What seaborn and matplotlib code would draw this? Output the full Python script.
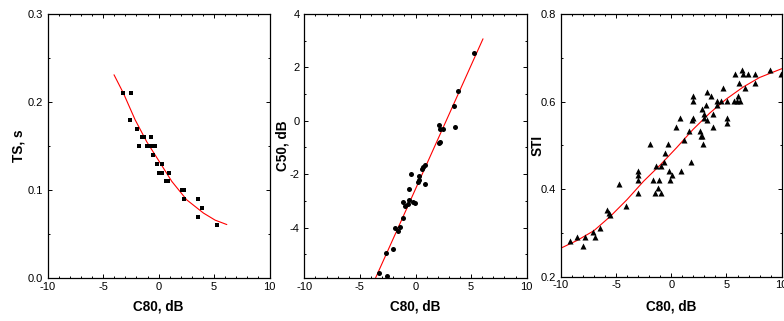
import numpy as np
import pandas as pd
import matplotlib
matplotlib.use("Agg")
import matplotlib.pyplot as plt
from matplotlib.ticker import MultipleLocator, FormatStrFormatter
import seaborn as sns

sns.set_style("ticks")
plt.rcParams['font.family'] = ['Liberation Sans', 'DejaVu Sans']
plt.rcParams['axes.unicode_minus'] = False
plt.rcParams.update({'text.color': 'black', 'axes.labelcolor': 'black',
                     'axes.edgecolor': 'black', 'xtick.color': 'black',
                     'ytick.color': 'black'})

# TS vs C80 (squares)
ts_c80 = [-3.17, -2.51, -2.6, -1.97, -1.76, -1.52, -1.28, -1.07, -0.83, -0.71, -0.53, -0.32,
          -0.53, -0.15, 0.35, 0.05, 0.35, 0.95, 0.65, 0.89, 2.09, 2.3, 2.3, 3.59, 3.89, 3.53, 5.31]
ts_val = [0.21, 0.21, 0.18, 0.17, 0.15, 0.16, 0.16, 0.15, 0.15, 0.16, 0.15, 0.15,
          0.14, 0.13, 0.13, 0.12, 0.12, 0.12, 0.11, 0.11, 0.10, 0.10, 0.09, 0.09, 0.08, 0.07, 0.06]
ts_fit_x = [-4.02, -3.17, -2.12, -1.07, 0.14, 1.19, 2.54, 4.05, 5.1, 6.15]
ts_fit_y = [0.231, 0.210, 0.180, 0.155, 0.131, 0.110, 0.089, 0.074, 0.066, 0.061]

# C50 vs C80 (circles)
c50_c80 = [5.23, 3.81, 3.48, 3.51, 2.12, 2.24, 2.5, 2.08, 2.24, 0.86, 0.67, 0.55, -0.40, 0.31,
           0.28, 0.19, 0.86, -0.62, -0.59, -0.19, -0.04, -1.09, -0.91, -0.7, -1.09, -1.4,
           -1.58, -1.85, -2.06, -2.65, -3.25, -2.59]
c50_val = [2.53, 1.10, 0.56, -0.22, -0.15, -0.30, -0.30, -0.83, -0.80, -1.66, -1.73, -1.79,
           -1.98, -2.07, -2.23, -2.28, -2.36, -2.55, -2.98, -3.03, -3.07, -3.03, -3.2, -3.13,
           -3.63, -3.96, -4.14, -4.02, -4.81, -4.96, -5.69, -5.81]
c50_fit_x = [-3.8, 6.07]
c50_fit_y = [-6.08, 3.07]

# STI vs C80 (triangles)
sti_c80 = [-9.14, -8.48, -7.94, -7.76, -7.1, -6.92, -6.4, -5.77, -5.65, -5.5, -4.72, -4.09,
           -3.03, -3.0, -3.0, -3.0, -1.92, -1.46, -1.64, -1.4, -1.1, -1.16, -0.92, -0.95,
           -0.65, -0.59, -0.32, -0.2, -0.08, 0.04, 0.44, 0.8, 0.92, 1.16, 1.77, 1.65, 1.86,
           2.0, 1.97, 1.97, 2.6, 2.7, 2.83, 2.92, 2.8, 2.95, 2.95, 3.16, 3.28, 3.25, 3.58,
           3.82, 3.76, 4.12, 4.15, 4.51, 4.66, 5.05, 5.08, 5.08, 5.78, 5.72, 5.93, 6.17,
           6.08, 6.23, 6.44, 6.53, 6.71, 6.98, 7.55, 7.55, 8.94, 9.97]
sti_val = [0.282, 0.291, 0.271, 0.291, 0.301, 0.291, 0.311, 0.352, 0.346, 0.34, 0.412, 0.362,
           0.392, 0.422, 0.432, 0.442, 0.502, 0.392, 0.422, 0.452, 0.422, 0.402, 0.392, 0.452,
           0.462, 0.482, 0.502, 0.442, 0.422, 0.432, 0.542, 0.562, 0.442, 0.512, 0.462, 0.532,
           0.557, 0.562, 0.612, 0.602, 0.532, 0.522, 0.522, 0.502, 0.582, 0.572, 0.562, 0.592,
           0.622, 0.557, 0.612, 0.572, 0.542, 0.592, 0.602, 0.602, 0.632, 0.602, 0.562, 0.552,
           0.662, 0.602, 0.602, 0.642, 0.612, 0.602, 0.672, 0.662, 0.632, 0.662, 0.662, 0.642,
           0.672, 0.662]
sti_fit_x = [-10, -8.5, -7, -5.5, -4, -2.5, -1, 0.5, 2, 3.5, 5, 6.5, 8, 10]
sti_fit_y = [0.265, 0.283, 0.305, 0.338, 0.376, 0.418, 0.455, 0.495, 0.537, 0.574, 0.606,
             0.633, 0.655, 0.675]

W, H = 784, 321
fig = plt.figure(figsize=(W / 100, H / 100), dpi=100)
boxes = [(47.7, 14, 269.5, 278.3), (304.3, 14, 526.7, 278.3), (560.7, 14, 781.7, 276.7)]
axes = [fig.add_axes([l / W, 1 - b / H, (r - l) / W, (b - t) / H]) for l, t, r, b in boxes]

panels = [
    (ts_c80, ts_val, ts_fit_x, ts_fit_y, 's', 9, 'TS, s', (0, 0.3), 0.1, 0.05, '%.1f'),
    (c50_c80, c50_val, c50_fit_x, c50_fit_y, 'o', 13, 'C50, dB', (-5.9, 4), 2, 1, '%d'),
    (sti_c80, sti_val, sti_fit_x, sti_fit_y, '^', 19, 'STI', (0.2, 0.8), 0.2, 0.1, '%.1f'),
]
ylab_x = [-0.0987, -0.0665, -0.0733]
xlab_y = [-0.0806, -0.0806, -0.0872]

for i, (ax, (x, y, fx, fy, mk, sz, ylab, ylim, ymaj, ymin, fmt)) in enumerate(zip(axes, panels)):
    df = pd.DataFrame({'C80': x, 'val': y})
    fit = pd.DataFrame({'C80': fx, 'val': fy})
    sns.lineplot(data=fit, x='C80', y='val', color='red', lw=0.8, ax=ax, sort=False)
    sns.scatterplot(data=df, x='C80', y='val', marker=mk, s=sz, color='black',
                    linewidth=0, ax=ax, zorder=3)
    ax.set_xlim(-10, 10)
    ax.set_ylim(*ylim)
    ax.xaxis.set_major_locator(MultipleLocator(5))
    ax.xaxis.set_minor_locator(MultipleLocator(1))
    ax.yaxis.set_major_locator(MultipleLocator(ymaj))
    ax.yaxis.set_minor_locator(MultipleLocator(ymin))
    ax.yaxis.set_major_formatter(FormatStrFormatter(fmt))
    ax.tick_params(which='both', direction='in', top=True, right=True,
                   labelsize=8, width=0.7, colors='black')
    ax.tick_params(axis='x', pad=2.6)
    ax.tick_params(axis='y', pad=3.2)
    ax.tick_params(which='major', length=2.8)
    ax.tick_params(which='minor', length=1.5)
    for sp in ax.spines.values():
        sp.set_linewidth(0.9)
        sp.set_color('black')
    ax.set_xlabel('C80, dB', fontsize=9.8, fontweight='bold')
    ax.set_ylabel(ylab, fontsize=9.8, fontweight='bold')
    ax.xaxis.set_label_coords(0.5, xlab_y[i])
    ax.yaxis.set_label_coords(ylab_x[i], 0.5)

fig.savefig('out.png', dpi=100)
